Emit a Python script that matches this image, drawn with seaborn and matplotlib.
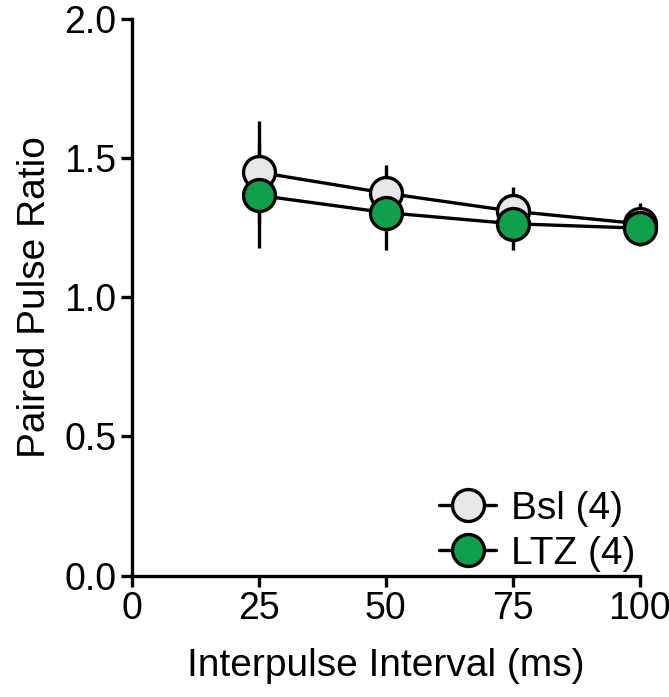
import matplotlib
matplotlib.use("Agg")
import matplotlib.pyplot as plt
import seaborn as sns
import pandas as pd
import numpy as np
from matplotlib.lines import Line2D

intervals = [25, 50, 75, 100]
bsl_mean = [1.45, 1.375, 1.31, 1.265]
bsl_sem = [0.184, 0.10, 0.088, 0.075]
ltz_mean = [1.367, 1.305, 1.265, 1.249]
ltz_sem = [0.19, 0.136, 0.096, 0.065]
labels = ["Bsl (4)", "LTZ (4)"]
colors = ["#e8e8e8", "#10a04c"]

sns.set_theme(style="ticks")
plt.rcParams['font.family'] = ['Liberation Sans', 'DejaVu Sans']
plt.rcParams['text.color'] = 'black'
plt.rcParams['axes.labelcolor'] = 'black'
plt.rcParams['xtick.color'] = 'black'
plt.rcParams['ytick.color'] = 'black'

df = pd.DataFrame({
    "interval": intervals * 2,
    "ppr": bsl_mean + ltz_mean,
    "err": bsl_sem + ltz_sem,
    "group": [labels[0]] * 4 + [labels[1]] * 4,
})

LW = 2.4
MS = 23

fig = plt.figure(figsize=(6.69, 6.97), dpi=100)
ax = fig.add_axes([0.197, 0.1743, 0.759, 0.798])

for i, g in enumerate(labels):
    sub = df[df["group"] == g]
    eb = ax.errorbar(sub["interval"], sub["ppr"], yerr=sub["err"], fmt="none",
                     ecolor="black", elinewidth=LW, capsize=0, zorder=1 + i * 0.1)
    for c in eb.lines[2]:
        c.set_clip_on(False)

for i, g in enumerate(labels):
    sub = df[df["group"] == g]
    sns.lineplot(data=sub, x="interval", y="ppr", ax=ax, color="black",
                 linewidth=LW, marker="o", markersize=MS,
                 markerfacecolor=colors[i], markeredgecolor="black",
                 markeredgewidth=LW, zorder=3 + i, legend=False)
for ln in ax.lines:
    ln.set_clip_on(False)

ax.set_xlim(0, 100)
ax.set_ylim(0, 2.0)
ax.set_xticks([0, 25, 50, 75, 100])
ax.set_yticks([0.0, 0.5, 1.0, 1.5, 2.0])
ax.set_yticklabels(["0.0", "0.5", "1.0", "1.5", "2.0"])
ax.set_xlabel("Interpulse Interval (ms)", fontsize=28, labelpad=15)
ax.set_ylabel("Paired Pulse Ratio", fontsize=28, labelpad=8)
ax.tick_params(axis="both", labelsize=27, direction="out", length=8,
               width=LW, color="black", pad=3)
for s in ["top", "right"]:
    ax.spines[s].set_visible(False)
for s in ["left", "bottom"]:
    ax.spines[s].set_linewidth(LW)
    ax.spines[s].set_color("black")
    ax.spines[s].set_clip_on(False)

handles = [Line2D([0], [0], color="black", lw=LW, marker="o", markersize=MS,
                  markerfacecolor=c, markeredgecolor="black", markeredgewidth=LW)
           for c in colors]
ax.legend(handles, labels, loc="lower right", frameon=False, fontsize=28,
          handlelength=1.45, handletextpad=0.4, labelspacing=0.22,
          borderaxespad=0.0, borderpad=0.1, bbox_to_anchor=(1.0, 0.0))

fig.savefig("out.png", dpi=100)
